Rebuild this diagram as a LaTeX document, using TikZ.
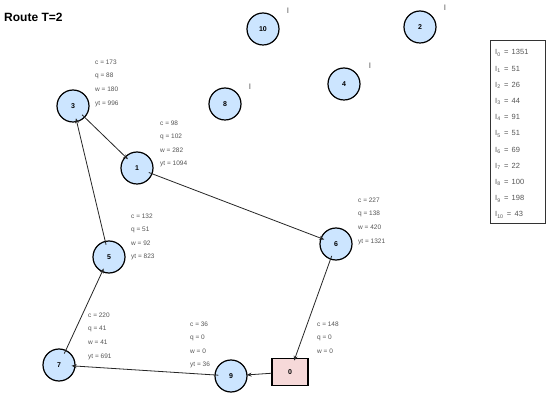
\documentclass[tikz,border=0pt]{standalone}
\usepackage{fontspec}
\setmainfont{Liberation Sans}
\usetikzlibrary{arrows.meta}
\definecolor{nodeblue}{HTML}{CCE5FF}
\definecolor{depotpink}{HTML}{F6D9D9}
\definecolor{lblgray}{HTML}{555555}
\tikzset{
  cust/.style={circle, draw=black, line width=1.2pt, fill=nodeblue, minimum size=32pt, inner sep=0pt, font=\fontsize{7}{8}\selectfont\bfseries},
  depot/.style={rectangle, draw=black, line width=1.2pt, fill=depotpink, minimum width=36pt, minimum height=27pt, inner sep=0pt, font=\fontsize{7}{8}\selectfont\bfseries},
  info/.style={anchor=base west, inner sep=0pt, text=lblgray, font=\fontsize{6.5}{7}\selectfont, yshift=-2.3pt},
  imark/.style={inner sep=0pt, text=lblgray, font=\fontsize{8}{9}\selectfont},
  legtxt/.style={anchor=base west, inner sep=0pt, text=lblgray, font=\fontsize{7.5}{8}\selectfont, yshift=-2.7pt},
  edge/.style={draw=black!85, line width=0.8pt, -{Stealth[length=5pt,width=4pt]}, shorten <=-4pt, shorten >=-4pt},
}
\begin{document}
\begin{tikzpicture}[x=1pt,y=-1pt]
\useasboundingbox (0,0) rectangle (550,398);
\fill[white] (0,0) rectangle (550,398);
\node[anchor=west, inner sep=0pt, font=\fontsize{12}{13}\selectfont\bfseries] (title) at (4,17) {Route T=2};

% legend
\node[draw=black!80, line width=0.8pt, minimum width=55pt, minimum height=183pt, inner sep=0pt] (legend) at (517.5,131.5) {};
\foreach \i/\v in {0/1351,1/51,2/26,3/44,4/91,5/51,6/69,7/22,8/100,9/198,10/43}{
  \node[legtxt] (leg\i) at (495,{52.3+16.2*\i}) {I\textsubscript{\i} \,=\, \v};
}

% customer nodes
\node[cust] (n10) at (263,29) {10};
\node[cust] (n2) at (420,27) {2};
\node[cust] (n4) at (344,84) {4};
\node[cust] (n8) at (225,104) {8};
\node[cust] (n3) at (73,106) {3};
\node[cust] (n1) at (137,168) {1};
\node[cust] (n6) at (336,244) {6};
\node[cust] (n5) at (109,257) {5};
\node[cust] (n7) at (59,365) {7};
\node[cust] (n9) at (231,376) {9};
\node[depot] (n0) at (290,372) {0};

% I marks
\node[imark] (i10) at (288,11) {I};
\node[imark] (i2) at (445,8) {I};
\node[imark] (i4) at (370,66) {I};
\node[imark] (i8) at (250,87) {I};

% info labels
\node[info] (c3) at (95,62) {c = 173};
\node[info] (q3) at (95,75.7) {q = 88};
\node[info] (w3) at (95,89.4) {w = 180};
\node[info] (y3) at (95,103) {yt = 996};

\node[info] (c1) at (160,123) {c = 98};
\node[info] (q1) at (160,136.5) {q = 102};
\node[info] (w1) at (160,150) {w = 282};
\node[info] (y1) at (160,163.5) {yt = 1094};

\node[info] (c6) at (358,200) {c = 227};
\node[info] (q6) at (358,213.7) {q = 138};
\node[info] (w6) at (358,227.4) {w = 420};
\node[info] (y6) at (358,241) {yt = 1321};

\node[info] (c5) at (131,216) {c = 132};
\node[info] (q5) at (131,229.5) {q = 51};
\node[info] (w5) at (131,243) {w = 92};
\node[info] (y5) at (131,256.5) {yt = 823};

\node[info] (c7) at (88,315) {c = 220};
\node[info] (q7) at (88,328.7) {q = 41};
\node[info] (w7) at (88,342.4) {w = 41};
\node[info] (y7) at (88,356) {yt = 691};

\node[info] (c9) at (190,324) {c = 36};
\node[info] (q9) at (190,337.5) {q = 0};
\node[info] (w9) at (190,351) {w = 0};
\node[info] (y9) at (190,364.5) {yt = 36};

\node[info] (c0) at (317,324) {c = 148};
\node[info] (q0) at (317,337.5) {q = 0};
\node[info] (w0) at (317,351) {w = 0};

% route
\draw[edge] (n3) -- (n1);
\draw[edge] (n1) -- (n6);
\draw[edge, shorten >=-3pt] (n6) -- (n0);
\draw[edge, shorten <=0pt, shorten >=-1pt] (n0) -- (n9);
\draw[edge] (n9) -- (n7);
\draw[edge] (n7) -- (n5);
\draw[edge] (n5) -- (n3);
\end{tikzpicture}
\end{document}
